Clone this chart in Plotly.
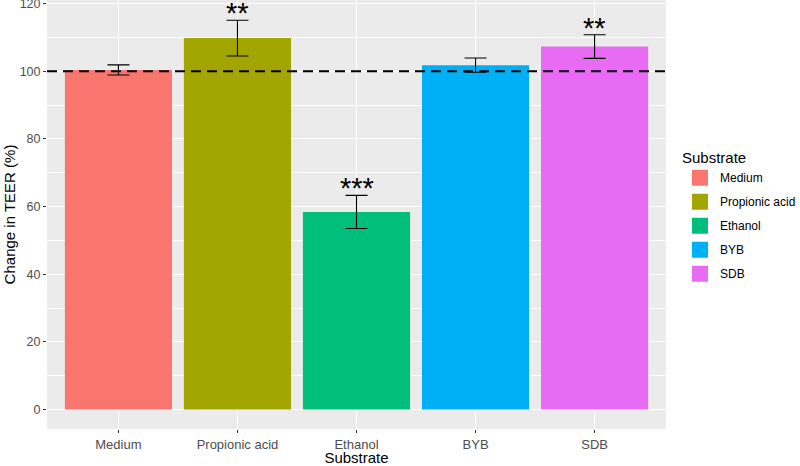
import plotly.graph_objects as go

categories = ["Medium", "Propionic acid", "Ethanol", "BYB", "SDB"]
means = [100.4, 109.8, 58.4, 101.8, 107.3]
errors = [1.5, 5.3, 4.9, 2.1, 3.5]
signif = ["", "**", "***", "", "**"]
colors = ["#F8766D", "#A3A500", "#00BF7D", "#00B0F6", "#E76BF3"]
y_ticks = [0, 20, 40, 60, 80, 100, 120]
reference_level = 100

FONT = "Liberation Sans, Arial, sans-serif"

fig = go.Figure()
for cat, m, e, c in zip(categories, means, errors, colors):
    fig.add_trace(go.Bar(
        x=[cat], y=[m], width=0.9, marker=dict(color=c, line=dict(width=0)),
        error_y=dict(type="data", array=[e], visible=True, color="black",
                     thickness=1.1, width=11),
        showlegend=False, name=cat,
    ))
# legend proxies
for i, (cat, c) in enumerate(zip(categories, colors)):
    fig.add_trace(go.Scatter(
        x=[None], y=[None], mode="markers", name=cat, legendgroup=f"g{i}",
        marker=dict(symbol="square", size=22, color=c, line=dict(width=0)),
    ))

for cat, m, e, s in zip(categories, means, errors, signif):
    if s:
        fig.add_annotation(x=cat, y=m + e, text=s, showarrow=False,
                           yanchor="bottom", yshift=-10, borderpad=0,
                           font=dict(family=FONT, size=29, color="black"))

fig.add_shape(type="line", xref="x domain", x0=0, x1=1, yref="y",
              y0=reference_level, y1=reference_level,
              line=dict(color="black", width=2, dash="10px,6px"))

fig.update_layout(
    width=800, height=466,
    margin=dict(l=47, r=134, t=0, b=37, autoexpand=False),
    paper_bgcolor="white", plot_bgcolor="#EBEBEB",
    barmode="overlay",
    font=dict(family=FONT, size=12, color="black"),
    legend=dict(
        title=dict(text="Substrate", font=dict(size=15, color="black")),
        x=1.0226, xanchor="left", y=0.665, yanchor="top",
        font=dict(size=12, color="black"), tracegroupgap=5,
        bgcolor="rgba(0,0,0,0)", itemsizing="trace",
    ),
)
fig.update_xaxes(
    type="category", categoryorder="array", categoryarray=categories,
    range=[-0.6, 4.6], showgrid=True, gridcolor="white", gridwidth=1.1,
    ticks="outside", ticklen=3, tickcolor="#333333", tickwidth=1,
    tickfont=dict(size=13, color="#4D4D4D"), automargin=False,
    title=dict(text="Substrate", font=dict(size=15, color="black"), standoff=6),
    zeroline=False, showline=False,
)
fig.update_yaxes(
    range=[-5.77, 121.07], tickvals=y_ticks, showgrid=True, gridcolor="white",
    gridwidth=1.1, zeroline=False, showline=False, automargin=False,
    ticks="outside", ticklen=3, tickcolor="#333333", tickwidth=1,
    ticklabeloverflow="allow",
    tickfont=dict(size=12.5, color="#4D4D4D"),
    minor=dict(dtick=10, tick0=0, showgrid=True, gridcolor="white", gridwidth=0.5),
    title=dict(text="Change in TEER (%)", font=dict(size=15, color="black"), standoff=0),
)

fig.write_html("out.html", config={"displayModeBar": False},
               post_script="document.body.style.margin='0';document.body.style.overflow='hidden';")
